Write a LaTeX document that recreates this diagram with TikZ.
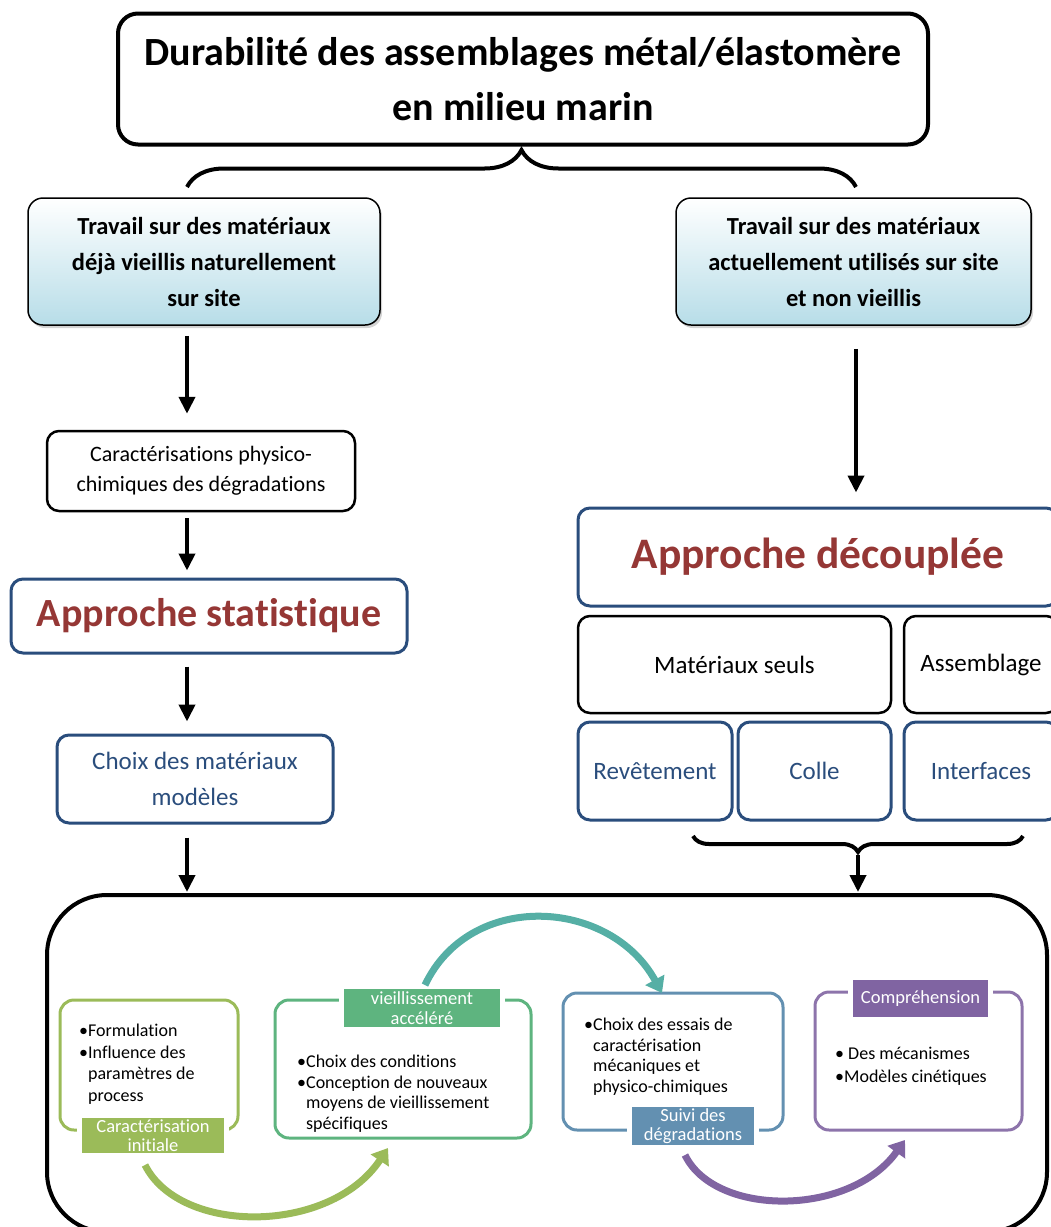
\documentclass[tikz,border=0pt]{standalone}
\usepackage{fontspec}
\setmainfont{Carlito}[Ligatures=NoCommon]
\usetikzlibrary{arrows.meta,decorations.pathreplacing,shadows}
\definecolor{DBlue}{HTML}{2A4D7C}
\definecolor{DRed}{HTML}{953735}
\definecolor{LBlue}{HTML}{B7DDE8}
\definecolor{GreenA}{HTML}{9BBB59}
\definecolor{GreenB}{HTML}{5EB47F}
\definecolor{BlueC}{HTML}{6390B1}
\definecolor{PurpleD}{HTML}{8064A2}
\definecolor{TealArc}{HTML}{55AFA5}
\tikzset{
  box/.style={draw,line width=2.5pt,rounded corners=12pt,align=center,inner sep=0pt},
  bluebox/.style={box,draw=DBlue,line width=3pt,text=DBlue,font=\fontsize{25}{36}\selectfont},
  sitebox/.style={draw,line width=1.5pt,rounded corners=15pt,align=center,inner sep=0pt,
    minimum width=352pt,minimum height=127pt,top color=white,bottom color=LBlue,
    drop shadow={shadow xshift=2pt,shadow yshift=-3pt,opacity=0.35},
    font=\bfseries\fontsize{24.5}{36}\selectfont},
  flow/.style={line width=4pt,-{Triangle[length=17pt,width=16pt]}},
  bracket/.style={decorate,line width=4pt},
  stage/.style={draw=#1,line width=3pt,rounded corners=14pt},
  tag/.style={fill=#1,text=white,inner sep=0pt,align=center,minimum height=37pt,
    font=\fontsize{18.5}{19.5}\selectfont,preaction={draw=white,line width=10pt}},
  items/.style={anchor=north west,align=left,inner sep=0pt,font=\fontsize{18}{20.5}\selectfont},
  loop/.style={line width=7pt,draw=#1,-{Triangle[length=15pt,width=21pt]}}
}
\begin{document}
\begin{tikzpicture}[x=1pt,y=-1pt]
\useasboundingbox (0,0) rectangle (1051,1227);
\coordinate (lcol) at (187,0);\coordinate (rcol) at (856,0);
% titre et deux voies
\node[box,line width=4pt,rounded corners=20pt,minimum width=810pt,minimum height=131pt,
  font=\bfseries\fontsize{40}{55}\selectfont] (titre) at (523,79) {Durabilité des assemblages métal/élastomère\\en milieu marin};
\coordinate (brL) at (187,187);\coordinate (brR) at (856,187);
\draw[bracket,decoration={brace,amplitude=37pt}] (brL) -- (brR);
\node[sitebox] (tl) at (204,261.5) {Travail sur des matériaux\\déjà vieillis naturellement\\sur site};
\node[sitebox,minimum width=355pt] (tr) at (853.5,261.5) {Travail sur des matériaux\\actuellement utilisés sur site\\et non vieillis};
% colonne gauche
\node[box,minimum width=308pt,minimum height=80pt,font=\fontsize{22}{30}\selectfont] (cp) at (201,471) {Caractérisations physico-\\chimiques des dégradations};
\node[bluebox,minimum width=396pt,minimum height=74pt,text=DRed,font=\bfseries\fontsize{40}{44}\selectfont] (as) at (209,616) {Approche statistique};
\node[bluebox,minimum width=276pt,minimum height=88pt] (cm) at (195,779) {Choix des matériaux\\modèles};
% colonne droite
\node[bluebox,minimum width=480pt,minimum height=98pt,text=DRed,font=\bfseries\fontsize{43.5}{46}\selectfont] (ad) at (818,557) {Approche découplée};
\node[box,minimum width=313pt,minimum height=97pt,font=\fontsize{25}{28}\selectfont] (ms) at (734.5,664.5) {Matériaux seuls};
\node[box,minimum width=154pt,minimum height=97pt,font=\fontsize{25}{28}\selectfont] (ab) at (981,664.5) {Assemblage};
\node[bluebox,minimum width=154pt,minimum height=98pt] (rv) at (655,771) {Revêtement};
\node[bluebox,minimum width=153pt,minimum height=98pt] (co) at (814.5,771) {Colle};
\node[bluebox,minimum width=154pt,minimum height=98pt] (it) at (981,771) {Interfaces};
\coordinate (bbL) at (693,836);\coordinate (bbR) at (1023,836);\coordinate (btip) at (858,855);
\draw[bracket,decoration={brace,mirror,amplitude=16pt}] (bbL) -- (bbR);
% cadre du bas
\node[draw,line width=4pt,rounded corners=60pt,minimum width=1000pt,minimum height=337pt] (cadre) at (547,1063.5) {};
\draw[flow,shorten <=10pt,shorten >=16pt] (tl.south -| lcol) -- (cp.north -| lcol);
\draw[flow,shorten <=6pt,shorten >=7pt] (cp.south -| lcol) -- (as.north -| lcol);
\draw[flow,shorten <=12pt,shorten >=12pt] (as.south -| lcol) -- (cm.north -| lcol);
\draw[flow,shorten <=13pt,shorten >=1pt] (cm.south -| lcol) -- (cadre.north -| lcol);
\draw[flow,shorten <=23pt,shorten >=14pt] (tr.south -| rcol) -- (ad.north -| rcol);
\draw[flow,shorten >=1pt] (btip) -- (cadre.north -| btip);
% etapes
\node[stage=GreenA,minimum width=178pt,minimum height=130pt] (e1) at (149,1065) {};
\node[stage=GreenB,minimum width=256pt,minimum height=138pt] (e2) at (403,1069) {};
\node[stage=BlueC,minimum width=220pt,minimum height=137pt] (e3) at (673,1061.5) {};
\node[stage=PurpleD!90!white,minimum width=207pt,minimum height=138pt] (e4) at (918.5,1061) {};
\node[tag=GreenA,minimum width=142pt,minimum height=35pt] (t1) at (153,1135.5) {Caractérisation\\initiale};
\node[tag=GreenB,minimum width=156pt,minimum height=38pt] (t2) at (422,1008) {vieillissement\\accéléré};
\node[tag=BlueC,minimum width=122pt,minimum height=38pt] (t3) at (693,1126) {Suivi des\\dégradations};
\node[tag=PurpleD,minimum width=135pt] (t4) at (920.5,998.5) {Compréhension};
\node[items,font=\fontsize{18}{21.5}\selectfont] (x1) at (79,1024) {•Formulation\\•Influence des\\\phantom{•}paramètres de\\\phantom{•}process};
\node[items] (x2) at (297,1055) {•Choix des conditions\\•Conception de nouveaux\\\phantom{•}moyens de vieillissement\\\phantom{•}spécifiques};
\node[items] (x3) at (584,1018) {•Choix des essais de\\\phantom{•}caractérisation\\\phantom{•}mécaniques et\\\phantom{•}physico-chimiques};
\node[items,font=\fontsize{18}{23}\selectfont] (x4) at (835,1047) {• Des mécanismes\\•Modèles cinétiques};
% fleches courbes
\coordinate (g1) at (145,1165);\coordinate (g2) at (388,1148);
\coordinate (c1) at (425,985);\coordinate (c2) at (662,993);
\coordinate (p1) at (685,1155);\coordinate (p2) at (905,1140);
\draw[loop=GreenA] (g1) .. controls (180,1235) and (330,1235) .. (g2);
\draw[loop=TealArc] (c1) .. controls (470,890) and (610,898) .. (c2);
\draw[loop=PurpleD] (p1) .. controls (715,1217) and (850,1217) .. (p2);
\end{tikzpicture}
\end{document}
